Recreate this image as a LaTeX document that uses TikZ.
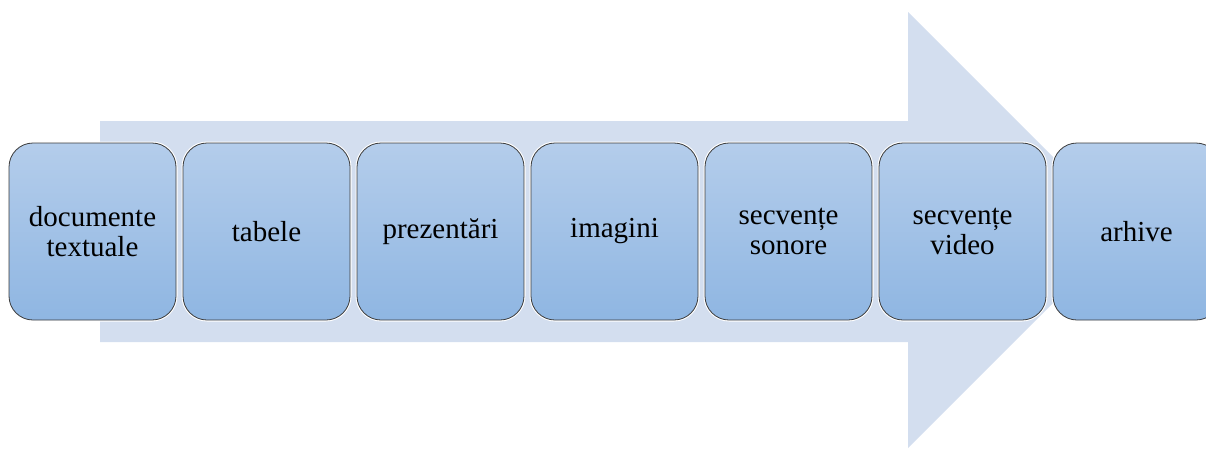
\documentclass[tikz,border=0pt]{standalone}
\usepackage{fontspec}
\newfontfamily\itemfont{Liberation Serif}
\definecolor{arrowfill}{RGB}{211,222,239}
\definecolor{boxtop}{RGB}{180,205,235}
\definecolor{boxbot}{RGB}{143,182,226}
\definecolor{boxline}{RGB}{60,60,60}
\tikzset{
    itembox/.style={rectangle, rounded corners=24pt, minimum width=167pt, minimum height=177pt,
        top color=boxtop, bottom color=boxbot, draw=boxline, line width=0.8pt,
        preaction={draw=white, line width=3pt},
        align=center, font=\itemfont\fontsize{29}{30}\selectfont, inner sep=0pt}
}
\begin{document}
\begin{tikzpicture}[x=1pt,y=-1pt]
                \clip (0,0) rectangle (1206,448);
                \fill[arrowfill] (100,121) -- (908,121) -- (908,12) -- (1126,230) -- (908,448) -- (908,342) -- (100,342) -- cycle;

                \node[itembox] (docs) at (92.5,231.5) {documente\\textuale};
                \node[itembox] (tabele) at (266.5,231.5) {tabele};
                \node[itembox] (prez) at (440.5,231.5) {prezentări};
                \node[itembox] (imagini) at (614.5,231.5) {imagini};
                \node[itembox] (sonore) at (788.5,231.5) {secvențe\\sonore};
                \node[itembox] (video) at (962.5,231.5) {secvențe\\video};
                \node[itembox] (arhive) at (1136.5,231.5) {arhive};
            \end{tikzpicture}
\end{document}
